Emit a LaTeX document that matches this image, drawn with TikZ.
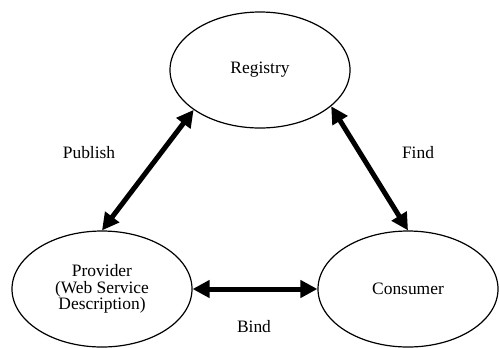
\documentclass[tikz,border=0pt]{standalone}
\usepackage{fontspec}
\setmainfont{Liberation Serif}
\usetikzlibrary{shapes.geometric,arrows.meta}
\begin{document}
\begin{tikzpicture}[x=1bp,y=-1bp,font=\fontsize{17.5}{16.5}\selectfont,
  role/.style={shape=ellipse,draw=black,line width=1.2bp,minimum width=180bp,minimum height=116bp,inner sep=0pt,align=center},
  link/.style={line width=5bp,{Triangle[length=17bp,width=17bp]}-{Triangle[length=17bp,width=17bp]}}]
\useasboundingbox (0,0) rectangle (499,347);

\node[role] (reg) at (260,70) {Registry};
\node[role] (prov) at (102,289) {Provider\\(Web Service\\Description)};
\node[role] (cons) at (408,289) {Consumer};

\draw[link] (prov.north) -- (reg.211);
\draw[link] (reg.333) -- (cons.north);
\draw[link] (prov.east) -- (cons.west);

\node (pub) at (89,153) {Publish};
\node (find) at (418,153) {Find};
\node (bind) at (254,327) {Bind};
\end{tikzpicture}
\end{document}
